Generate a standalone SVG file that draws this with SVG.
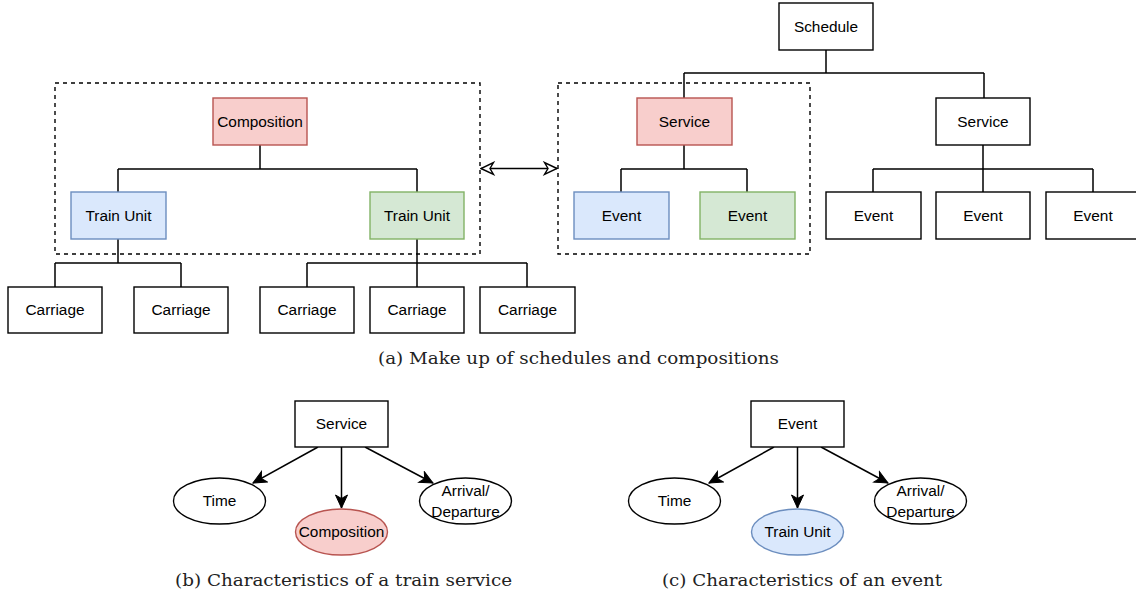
<svg xmlns="http://www.w3.org/2000/svg" width="1136" height="596" viewBox="0 0 1136 596">
<style>
.box{fill:#fff;stroke:#000;stroke-width:1.4}
.red{fill:#f8cecc;stroke:#b85450;stroke-width:1.4}
.blue{fill:#dae8fc;stroke:#6c8ebf;stroke-width:1.4}
.green{fill:#d5e8d4;stroke:#82b366;stroke-width:1.4}
.dash{fill:none;stroke:#000;stroke-width:1.4;stroke-dasharray:4 4}
.ln{fill:none;stroke:#000;stroke-width:1.5}
.t{font-family:"Liberation Sans",Arial,sans-serif;font-size:15.4px;fill:#000;text-anchor:middle}
.cap{font-family:"DejaVu Serif","Liberation Serif",serif;font-size:16px;fill:#222;text-anchor:middle}
</style>
<defs>
<marker id="arr" viewBox="-14 -7 15 14" refX="0" refY="0" markerWidth="15" markerHeight="14" markerUnits="userSpaceOnUse" orient="auto">
<path d="M0,0 L-13,-6 L-9.5,0 L-13,6 Z" fill="#000" stroke="#000" stroke-width="1"/>
</marker>
<marker id="open" viewBox="-15 -8 16 16" refX="0" refY="0" markerWidth="16" markerHeight="16" markerUnits="userSpaceOnUse" orient="auto-start-reverse">
<path d="M0,0 L-12.5,-6 L-9,0 L-12.5,6 Z" fill="#fff" stroke="#000" stroke-width="1.4"/>
</marker>
</defs>

<!-- dashed groups -->
<g id="group-composition"><rect class="dash" x="55" y="83" width="425" height="171"/></g>
<g id="group-service"><rect class="dash" x="558" y="83" width="252" height="171"/></g>

<g id="connectors">
<!-- schedule tree -->
<path class="ln" d="M826,50 V73 M684,73 H984 M684,73 V98 M984,73 V98"/>
<path class="ln" d="M684,145 V169 M621,169 H747 M621,169 V192 M747,169 V192"/>
<path class="ln" d="M983,145 V192 M873,169 H1093 M873,169 V192 M1093,169 V192"/>
<!-- composition tree -->
<path class="ln" d="M260,145 V169 M118,169 H417 M118,169 V192 M417,169 V192"/>
<path class="ln" d="M118,239 V263 M55,263 H181 M55,263 V287 M181,263 V287"/>
<path class="ln" d="M417,239 V287 M307,263 H527 M307,263 V287 M527,263 V287"/>
<!-- double arrow -->
<line class="ln" x1="481" y1="168.5" x2="557" y2="168.5" marker-start="url(#open)" marker-end="url(#open)"/>
<!-- (b) -->
<line class="ln" x1="318" y1="447" x2="253" y2="483" marker-end="url(#arr)"/>
<line class="ln" x1="341.5" y1="447" x2="341.5" y2="508" marker-end="url(#arr)"/>
<line class="ln" x1="365" y1="447" x2="433" y2="483" marker-end="url(#arr)"/>
<!-- (c) -->
<line class="ln" x1="774" y1="447" x2="709" y2="483" marker-end="url(#arr)"/>
<line class="ln" x1="797.5" y1="447" x2="797.5" y2="508" marker-end="url(#arr)"/>
<line class="ln" x1="821" y1="447" x2="888" y2="483" marker-end="url(#arr)"/>
</g>

<g id="schedule"><rect class="box" x="779" y="3" width="94" height="47"/><text class="t" x="826" y="32">Schedule</text></g>
<g id="service-red"><rect class="red" x="637" y="98" width="95" height="47"/><text class="t" x="684.5" y="127">Service</text></g>
<g id="service-white"><rect class="box" x="936" y="98" width="94" height="47"/><text class="t" x="983" y="127">Service</text></g>
<g id="event-blue"><rect class="blue" x="574" y="192" width="95" height="47"/><text class="t" x="621.5" y="221">Event</text></g>
<g id="event-green"><rect class="green" x="700" y="192" width="95" height="47"/><text class="t" x="747.5" y="221">Event</text></g>
<g id="event-1"><rect class="box" x="826" y="192" width="95" height="47"/><text class="t" x="873.5" y="221">Event</text></g>
<g id="event-2"><rect class="box" x="936" y="192" width="94" height="47"/><text class="t" x="983" y="221">Event</text></g>
<g id="event-3"><rect class="box" x="1046" y="192" width="95" height="47"/><text class="t" x="1093" y="221">Event</text></g>

<g id="composition"><rect class="red" x="213" y="98" width="94" height="47"/><text class="t" x="260" y="127">Composition</text></g>
<g id="trainunit-blue"><rect class="blue" x="71" y="192" width="95" height="47"/><text class="t" x="118.5" y="221">Train Unit</text></g>
<g id="trainunit-green"><rect class="green" x="370" y="192" width="94" height="47"/><text class="t" x="417" y="221">Train Unit</text></g>
<g id="carriage-1"><rect class="box" x="8" y="287" width="94" height="46"/><text class="t" x="55" y="315">Carriage</text></g>
<g id="carriage-2"><rect class="box" x="134" y="287" width="94" height="46"/><text class="t" x="181" y="315">Carriage</text></g>
<g id="carriage-3"><rect class="box" x="260" y="287" width="94" height="46"/><text class="t" x="307" y="315">Carriage</text></g>
<g id="carriage-4"><rect class="box" x="370" y="287" width="94" height="46"/><text class="t" x="417" y="315">Carriage</text></g>
<g id="carriage-5"><rect class="box" x="480" y="287" width="95" height="46"/><text class="t" x="527.5" y="315">Carriage</text></g>

<text class="cap" x="578.5" y="364" textLength="401" lengthAdjust="spacingAndGlyphs">(a) Make up of schedules and compositions</text>

<!-- (b) -->
<g id="b-service"><rect class="box" x="295" y="401" width="93" height="46"/><text class="t" x="341.5" y="429">Service</text></g>
<g id="b-time"><ellipse class="box" cx="219.5" cy="501" rx="46" ry="23"/><text class="t" x="219.5" y="506">Time</text></g>
<g id="b-composition"><ellipse class="red" cx="341.5" cy="532" rx="46" ry="23"/><text class="t" x="341.5" y="537">Composition</text></g>
<g id="b-arrival"><ellipse class="box" cx="465.5" cy="501" rx="46" ry="23"/><text class="t" x="465.5" y="496">Arrival/</text><text class="t" x="465.5" y="517">Departure</text></g>
<text class="cap" x="343.5" y="586" textLength="337" lengthAdjust="spacingAndGlyphs">(b) Characteristics of a train service</text>

<!-- (c) -->
<g id="c-event"><rect class="box" x="751" y="401" width="93" height="46"/><text class="t" x="797.5" y="429">Event</text></g>
<g id="c-time"><ellipse class="box" cx="674.5" cy="501" rx="46" ry="23"/><text class="t" x="674.5" y="506">Time</text></g>
<g id="c-trainunit"><ellipse class="blue" cx="797.5" cy="532" rx="46" ry="23"/><text class="t" x="797.5" y="537">Train Unit</text></g>
<g id="c-arrival"><ellipse class="box" cx="920.5" cy="501" rx="46" ry="23"/><text class="t" x="920.5" y="496">Arrival/</text><text class="t" x="920.5" y="517">Departure</text></g>
<text class="cap" x="802" y="586" textLength="280" lengthAdjust="spacingAndGlyphs">(c) Characteristics of an event</text>
</svg>
